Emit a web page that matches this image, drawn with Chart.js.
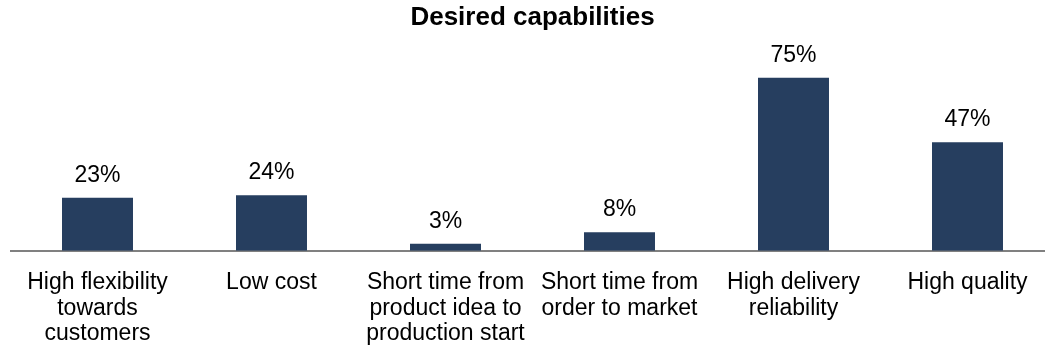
<!DOCTYPE html>
<html>
<head>
<meta charset="utf-8">
<script src="https://cdn.jsdelivr.net/npm/chart.js@4"></script>
<style>
  html, body { margin: 0; padding: 0; background: #fff; overflow: hidden; }
  #wrap { width: 1056px; height: 366px; }
</style>
</head>
<body>
<div id="wrap"><canvas id="chart"></canvas></div>
<script>
// categories and shares (%)
const categories = [
  ['High flexibility', 'towards', 'customers'],
  ['Low cost'],
  ['Short time from', 'product idea to', 'production start'],
  ['Short time from', 'order to market'],
  ['High delivery', 'reliability'],
  ['High quality']
];
const shares = [23, 24, 3, 8, 75, 47];

const FONT = '"Liberation Sans", Arial, sans-serif';
const BAR = '#263e5f';

// value labels above each bar
const valueLabels = {
  id: 'valueLabels',
  afterDatasetsDraw(chart) {
    const ctx = chart.ctx;
    const meta = chart.getDatasetMeta(0);
    ctx.save();
    ctx.font = '23px ' + FONT;
    ctx.fillStyle = '#000';
    ctx.textAlign = 'center';
    ctx.textBaseline = 'alphabetic';
    meta.data.forEach((bar, i) => {
      ctx.fillText(shares[i] + '%', bar.x, bar.y - 16);
    });
    ctx.restore();
  }
};

new Chart(document.getElementById('chart'), {
  type: 'bar',
  data: {
    labels: categories,
    datasets: [{
      data: shares,
      backgroundColor: BAR,
      borderWidth: 0,
      barPercentage: 0.408,
      categoryPercentage: 1
    }]
  },
  options: {
    responsive: true,
    maintainAspectRatio: false,
    animation: false,
    layout: { padding: { left: 10.5, right: 1.5, top: 0, bottom: 0 } },
    plugins: {
      legend: { display: false },
      tooltip: { enabled: false },
      title: {
        display: true,
        text: 'Desired capabilities',
        fullSize: false,
        color: '#000',
        font: { family: FONT, size: 26, weight: 'bold' },
        padding: { top: 2, bottom: 6 }
      }
    },
    scales: {
      x: {
        offset: true,
        grid: { display: false, drawTicks: false },
        border: { display: true, color: '#808080', width: 2 },
        ticks: {
          autoSkip: false,
          maxRotation: 0,
          color: '#000',
          padding: 19,
          font: { family: FONT, size: 23, lineHeight: 1.12 }
        }
      },
      y: {
        display: false,
        min: 0,
        max: 91.7
      }
    }
  },
  plugins: [valueLabels]
});
</script>
</body>
</html>
